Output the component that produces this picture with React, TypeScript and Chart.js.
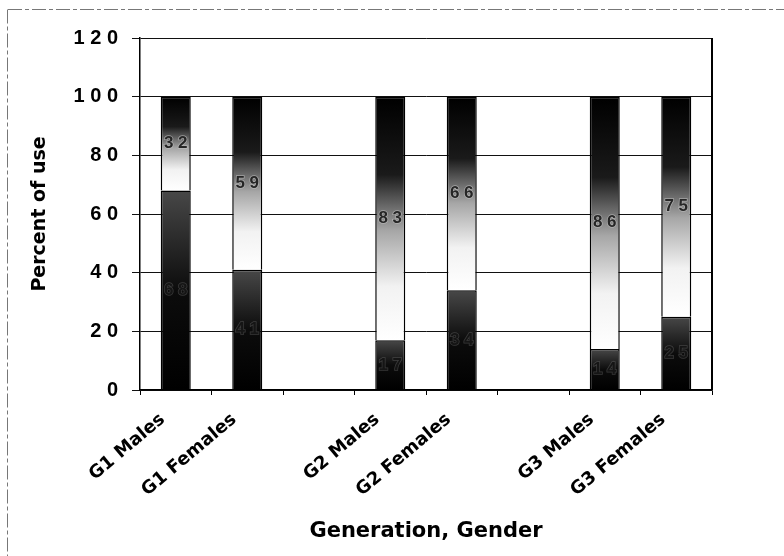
import React, { useEffect, useRef } from 'react';
import { Chart, registerables } from 'chart.js';

Chart.register(...registerables);

// ---- data ----
const categories = ['G1 Males', 'G1 Females', '', 'G2 Males', 'G2 Females', '', 'G3 Males', 'G3 Females'];
const lowerShare: (number | null)[] = [68, 41, null, 17, 34, null, 14, 25];
const upperShare: (number | null)[] = [32, 59, null, 83, 66, null, 86, 75];
const yMin = 0;
const yMax = 120;
const yStep = 20;
const xTitle = 'Generation, Gender';
const yTitle = 'Percent of use';

const spaced = (v: number | string) => String(v).split('').join(' ');

const makeBg = (which: 0 | 1) => (c: any) => {
  const chart = c.chart;
  const ys = chart.scales && chart.scales.y;
  if (c.type !== 'data' || !ys || !chart.chartArea) return which === 0 ? '#222' : '#999';
  const i = c.dataIndex;
  const lo = lowerShare[i] ?? 0;
  const up = upperShare[i] ?? 0;
  const v0 = which === 0 ? 0 : lo;
  const v1 = which === 0 ? lo : lo + up;
  const p0 = ys.getPixelForValue(v0);
  const p1 = ys.getPixelForValue(v1);
  const g = chart.ctx.createLinearGradient(0, p0, 0, p1 === p0 ? p0 - 1 : p1);
  if (which === 0) {
    g.addColorStop(0, '#000000');
    g.addColorStop(0.5, '#0c0c0c');
    g.addColorStop(1, '#484848');
  } else {
    g.addColorStop(0, '#ffffff');
    g.addColorStop(0.22, '#f2f2f2');
    g.addColorStop(0.45, '#a6a6a6');
    g.addColorStop(0.68, '#1a1a1a');
    g.addColorStop(1, '#000000');
  }
  return g;
};

const segLabels = {
  id: 'segLabels',
  afterDatasetsDraw(chart: any) {
    const ctx = chart.ctx;
    ctx.save();
    ctx.font = 'bold 17px "Liberation Sans", Arial, sans-serif';
    ctx.textAlign = 'center';
    ctx.textBaseline = 'middle';
    chart.data.datasets.forEach((ds: any, di: number) => {
      const meta = chart.getDatasetMeta(di);
      meta.data.forEach((el: any, i: number) => {
        const v = ds.data[i];
        if (v == null) return;
        const { x, y, base } = el.getProps(['x', 'y', 'base'], true);
        const cy = (y + base) / 2;
        const txt = spaced(v);
        ctx.lineWidth = 1.5;
        ctx.strokeStyle = di === 0 ? 'rgba(110,110,110,0.45)' : 'rgba(200,200,200,0.6)';
        ctx.strokeText(txt, x, cy);
        ctx.fillStyle = di === 0 ? '#151515' : '#262626';
        ctx.fillText(txt, x, cy);
      });
    });
    ctx.restore();
  },
};

const frames = {
  id: 'frames',
  beforeDraw(chart: any) {
    const ctx = chart.ctx;
    ctx.save();
    ctx.strokeStyle = '#777';
    ctx.lineWidth = 1;
    ctx.setLineDash([14, 3, 4, 3]);
    ctx.beginPath();
    ctx.moveTo(8, 9.5);
    ctx.lineTo(784, 9.5);
    ctx.moveTo(7.5, 9.5);
    ctx.lineTo(7.5, 556);
    ctx.stroke();
    ctx.restore();
  },
  afterDraw(chart: any) {
    const { ctx, chartArea } = chart;
    ctx.save();
    ctx.strokeStyle = '#000';
    ctx.lineWidth = 2;
    ctx.beginPath();
    ctx.moveTo(chartArea.right, chartArea.top);
    ctx.lineTo(chartArea.right, chartArea.bottom);
    ctx.stroke();
    ctx.restore();
  },
};

export default function App() {
  const ref = useRef<HTMLCanvasElement | null>(null);
  useEffect(() => {
    if (!ref.current) return;
    const chart = new Chart(ref.current, {
      type: 'bar',
      data: {
        labels: categories,
        datasets: [
          {
            label: 'Lower',
            data: lowerShare,
            backgroundColor: makeBg(0),
            borderColor: '#000',
            borderWidth: 1.5,
            categoryPercentage: 1,
            barPercentage: 0.42,
          },
          {
            label: 'Upper',
            data: upperShare,
            backgroundColor: makeBg(1),
            borderColor: '#000',
            borderWidth: 1.5,
            categoryPercentage: 1,
            barPercentage: 0.42,
          },
        ],
      },
      options: {
        animation: false,
        responsive: false,
        maintainAspectRatio: false,
        layout: { padding: { top: 38, right: 72, left: 0, bottom: 0 } },
        plugins: { legend: { display: false }, tooltip: { enabled: false } },
        scales: {
          x: {
            stacked: true,
            grid: { display: true, drawOnChartArea: false, drawTicks: true, tickLength: 5, color: '#000', offset: true },
            border: { display: true, color: '#000', width: 1.5 },
            ticks: {
              autoSkip: false,
              minRotation: 40,
              maxRotation: 40,
              padding: 14,
              labelOffset: -13,
              color: '#000',
              font: { family: '"DejaVu Sans", sans-serif', weight: 'bold', size: 18 },
            },
            title: {
              display: true,
              text: xTitle,
              color: '#000',
              font: { family: '"DejaVu Sans", sans-serif', weight: 'bold', size: 21 },
              padding: { top: 0, bottom: 12 },
            },
            afterFit: (s: any) => {
              s.height = 166;
            },
          },
          y: {
            stacked: true,
            min: yMin,
            max: yMax,
            ticks: {
              stepSize: yStep,
              padding: 14,
              color: '#000',
              font: { family: '"Liberation Sans", Arial, sans-serif', weight: 'bold', size: 20 },
              callback: (v: any) => spaced(v),
            },
            grid: { color: '#111', lineWidth: 1, tickLength: 8 },
            border: { display: true, color: '#000', width: 1.5 },
            title: {
              display: true,
              text: yTitle,
              color: '#000',
              font: { family: '"DejaVu Sans", sans-serif', weight: 'bold', size: 19 },
              padding: { top: 29, bottom: 0 },
            },
            afterFit: (s: any) => {
              s.width = 140;
            },
          },
        },
      },
      plugins: [segLabels, frames],
    });
    return () => chart.destroy();
  }, []);
  return (
    <div style={{ position: 'absolute', left: 0, top: 0, width: 784, height: 556, background: '#fff' }}>
      <canvas ref={ref} width={784} height={556} style={{ width: 784, height: 556, display: 'block' }} />
    </div>
  );
}
